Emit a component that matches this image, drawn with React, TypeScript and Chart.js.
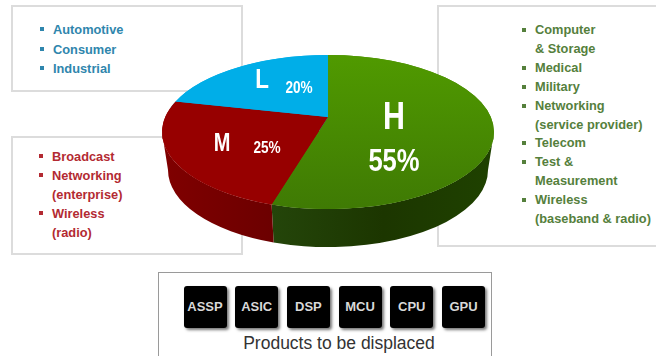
import React, { useEffect, useRef } from "react";
import { Chart, registerables } from "chart.js";

Chart.register(...registerables);

const segments = ["H", "M", "L"];
const shares = [55, 25, 20];
const lowItems = ["• Automotive", "• Consumer", "• Industrial"];
const midItems = ["• Broadcast", "• Networking", "(enterprise)", "• Wireless", "(radio)"];
const highItems = ["• Computer", "& Storage", "• Medical", "• Military", "• Networking", "(service provider)", "• Telecom", "• Test &", "Measurement", "• Wireless", "(baseband & radio)"];
const products = ["ASSP", "ASIC", "DSP", "MCU", "CPU", "GPU"];
const caption = "Products to be displaced";

const faceColors = ["#4a8a02", "#970000", "#00aee8"];
const wallStops = [
  ["#3a6502", "#24450a", "#1c3600", "#1f4200"],
  ["#800000", "#6c0000", "#5e0000", "#5c0000"],
  ["#0088bb", "#0088bb", "#0088bb", "#0088bb"],
];
const SANS = "'Liberation Sans'";
const labelStyle = [
  { name: `700 38px ${SANS}`, nx: 394, ny: 119, pct: `700 32px ${SANS}`, px: 394, py: 162 },
  { name: `700 25px ${SANS}`, nx: 222, ny: 144, pct: `700 17px ${SANS}`, px: 267, py: 148 },
  { name: `700 28px ${SANS}`, nx: 262, ny: 80, pct: `700 17px ${SANS}`, px: 299, py: 88 },
];
const LABEL_SQUEEZE = 0.8;

const CENTER_Y = 132;
const APEX_Y = 117;
const TILT = 77 / 166;
const WALL_DROP = 38;
const WALL_INSET = 6;
const PERSPECTIVE = -0.1;

// Moves a rim angle toward the near edge, as viewing the disc from above does.
const rimAngle = (angle: number) => {
  const x = Math.cos(angle);
  const y = Math.sin(angle);
  const d = 1 + PERSPECTIVE * y;
  return Math.atan2((y + PERSPECTIVE) / d, (x * Math.sqrt(1 - PERSPECTIVE * PERSPECTIVE)) / d);
};

// Continues an angle past the previous one so that slices keep sweeping clockwise.
const unwrap = (angle: number, after: number) => {
  let a = angle;
  while (a < after - 1e-6) a += Math.PI * 2;
  return a;
};

// Draws a label with condensed letterforms.
const squeezedText = (ctx: CanvasRenderingContext2D, text: string, x: number, y: number, font: string) => {
  ctx.save();
  ctx.font = font;
  ctx.translate(x, y);
  ctx.scale(LABEL_SQUEEZE, 1);
  ctx.fillText(text, 0, 0);
  ctx.restore();
};

// Squashes the round pie into a tilted disc with a side wall and a raised apex.
const tiltedPie = {
  id: "tiltedPie",
  beforeDatasetsDraw(chart: any) {
    const ctx = chart.ctx;
    const arcs = chart.getDatasetMeta(0).data;
    arcs.forEach((arc: any, i: number) => {
      const r = arc.outerRadius;
      const ry = r * TILT;
      const a0 = rimAngle(arc.startAngle);
      const a1 = unwrap(rimAngle(arc.endAngle), a0);
      const start = Math.max(a0, 0);
      const end = Math.min(a1, Math.PI);
      if (end <= start) return;
      const grad = ctx.createLinearGradient(arc.x - r, 0, arc.x + r, 0);
      wallStops[i].forEach((c: string, k: number) => grad.addColorStop(k / 3, c));
      ctx.beginPath();
      ctx.ellipse(arc.x, CENTER_Y, r, ry, 0, start, end);
      ctx.ellipse(arc.x, CENTER_Y + WALL_DROP, r - WALL_INSET, ry, 0, end, start, true);
      ctx.closePath();
      ctx.fillStyle = grad;
      ctx.fill();
    });
    const first = arcs[0];
    ctx.save();
    ctx.translate(first.x, CENTER_Y);
    ctx.scale(1, TILT);
    ctx.translate(-first.x, -first.y);
  },
  afterDatasetsDraw(chart: any) {
    const ctx = chart.ctx;
    ctx.restore();
    const arcs = chart.getDatasetMeta(0).data;
    arcs.forEach((arc: any, i: number) => {
      const r = arc.outerRadius;
      const a0 = rimAngle(arc.startAngle);
      const a1 = unwrap(rimAngle(arc.endAngle), a0);
      ctx.beginPath();
      ctx.moveTo(arc.x, APEX_Y);
      ctx.ellipse(arc.x, CENTER_Y, r, r * TILT, 0, a0, a1);
      ctx.closePath();
      if (i === 0) {
        const g = ctx.createLinearGradient(0, CENTER_Y - r * TILT, 0, CENTER_Y + r * TILT);
        g.addColorStop(0, "#509a00");
        g.addColorStop(1, "#3f7a04");
        ctx.fillStyle = g;
      } else {
        ctx.fillStyle = faceColors[i];
      }
      ctx.fill();
    });
    ctx.fillStyle = "#ffffff";
    ctx.textAlign = "center";
    ctx.textBaseline = "middle";
    segments.forEach((name, i) => {
      const s = labelStyle[i];
      squeezedText(ctx, name, s.nx, s.ny, s.name);
      squeezedText(ctx, `${shares[i]}%`, s.px, s.py, s.pct);
    });
  },
};

const box = (left: number, top: number, width: number, height: number): React.CSSProperties => ({
  position: "absolute",
  left,
  top,
  width,
  height,
  boxSizing: "border-box",
  background: "#fff",
  border: "2px solid #dcdcdc",
});

function ItemList({ items, left, top, color, lineHeight }: { items: string[]; left: number; top: number; color: string; lineHeight: number }) {
  return (
    <div style={{ position: "absolute", left, top, color, font: `700 12.8px/${lineHeight}px 'Liberation Sans', sans-serif`, whiteSpace: "nowrap" }}>
      {items.map((item) => {
        const bulleted = item.startsWith("• ");
        return (
          <div key={item} style={{ position: "relative", paddingLeft: 13 }}>
            {bulleted && <span style={{ position: "absolute", left: 0, top: 7, width: 4, height: 4, background: color }} />}
            {bulleted ? item.slice(2) : item}
          </div>
        );
      })}
    </div>
  );
}

export default function App() {
  const canvasRef = useRef<HTMLCanvasElement | null>(null);

  useEffect(() => {
    document.body.style.margin = "0";
    document.body.style.background = "#fff";
    const chart = new Chart(canvasRef.current as HTMLCanvasElement, {
      type: "pie",
      data: {
        labels: segments,
        datasets: [{ data: shares, backgroundColor: faceColors, borderWidth: 0 }],
      },
      options: {
        responsive: false,
        animation: false,
        layout: { padding: { top: 12, bottom: 12 } },
        plugins: { legend: { display: false }, tooltip: { enabled: false } },
      },
      plugins: [tiltedPie],
    } as any);
    return () => chart.destroy();
  }, []);

  return (
    <div style={{ position: "relative", width: 656, height: 356, overflow: "hidden", background: "#fff" }}>
      <div style={box(11, 5, 232, 87)} />
      <div style={box(11, 136, 232, 119)} />
      <div style={box(437, 5, 240, 242)} />
      <div style={{ ...box(158, 272, 334, 100), border: "1px solid #9a9a9a" }} />
      <ItemList items={lowItems} left={40} top={20} color="#2f86ad" lineHeight={19.5} />
      <ItemList items={midItems} left={39} top={147} color="#b32a32" lineHeight={19} />
      <ItemList items={highItems} left={522} top={21} color="#55803c" lineHeight={18.9} />
      {products.map((p, i) => (
        <div
          key={p}
          style={{
            position: "absolute",
            left: 183.5 + i * 51.7,
            top: 286,
            width: 43,
            height: 42,
            background: "#000",
            borderRadius: 3,
            boxShadow: "2px 2px 3px #777",
            color: "#d8d8d8",
            font: "700 13px/42px 'Liberation Sans', sans-serif",
            textAlign: "center",
          }}
        >
          {p}
        </div>
      ))}
      <div style={{ position: "absolute", left: 158, width: 362, top: 333, textAlign: "center", color: "#333", font: "400 17.5px/20px 'Liberation Sans', sans-serif" }}>
        {caption}
      </div>
      <canvas ref={canvasRef} width={656} height={356} style={{ position: "absolute", left: 0, top: 0 }} />
    </div>
  );
}
